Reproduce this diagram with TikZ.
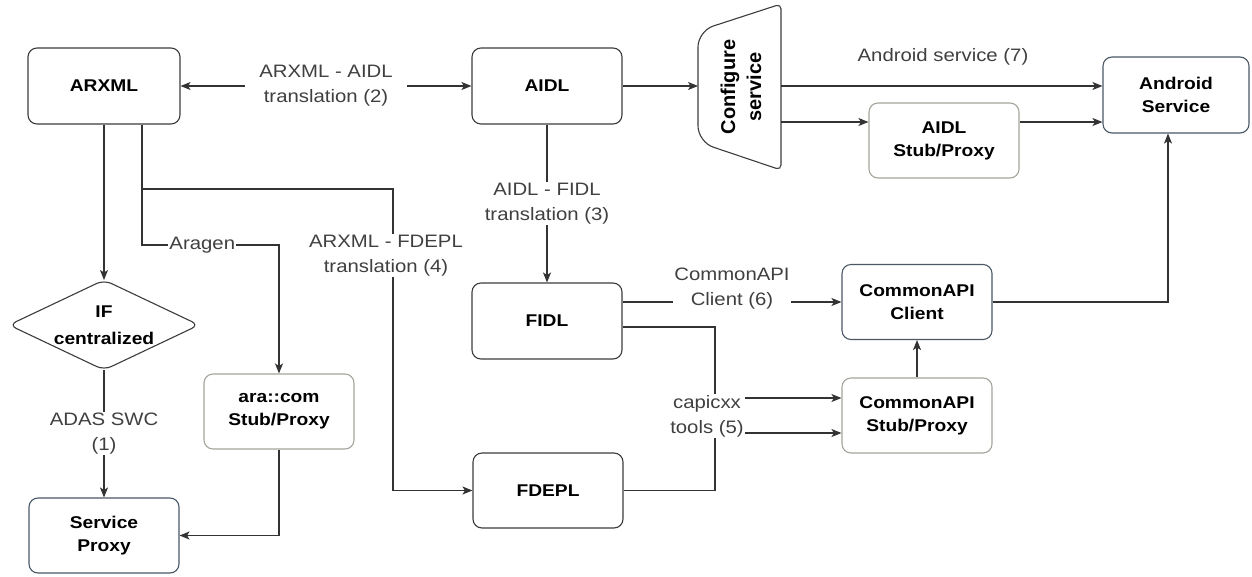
\documentclass[tikz,border=0pt]{standalone}
\usepackage{fontspec}
\setmainfont[FakeStretch=1.13]{Liberation Sans}
\newfontfamily\cfgfont{Liberation Sans}
\usetikzlibrary{arrows.meta}
\definecolor{linec}{HTML}{333333}
\definecolor{boxd}{HTML}{3C3C3C}
\definecolor{boxb}{HTML}{4A5866}
\definecolor{boxl}{HTML}{A6A49C}
\definecolor{lblc}{HTML}{404040}
\begin{document}
\begin{tikzpicture}[x=1pt,y=-1pt,
  box/.style={draw=boxd, line width=1.1pt, rounded corners=9pt, minimum width=150pt,
    minimum height=76pt, align=center, fill=white, inner sep=0pt,
    font=\bfseries\fontsize{17}{23}\selectfont},
  lbl/.style={font=\fontsize{18}{25}\selectfont, text=lblc, fill=white, align=center,
    inner xsep=3pt, inner ysep=1pt},
  conn/.style={draw=linec, line width=1.2pt},
  arr/.style={conn, -{Stealth[length=10pt,width=8pt,inset=2.5pt]}},
  darr/.style={conn, {Stealth[length=10pt,width=8pt,inset=2.5pt]}-{Stealth[length=10pt,width=8pt,inset=2.5pt]}}]
\path[use as bounding box] (0,0) rectangle (1252,576);
\fill[white] (0,0) rectangle (1252,576);

% boxes
\node[box, minimum width=152pt] (arxml) at (104,86) {ARXML};
\node[box] (aidl) at (547,86) {AIDL};
\node[box] (fidl) at (547,321) {FIDL};
\node[box, minimum height=75pt] (fdepl) at (548,490.5) {FDEPL};
\node[box, draw=boxb, minimum width=146pt] (andsvc) at (1176,95) {Android\\Service};
\node[box, draw=boxl, minimum height=75pt] (aidlstub) at (944,140.5) {AIDL\\Stub/Proxy};
\node[box, draw=boxb, minimum height=75pt] (capicl) at (917,302) {CommonAPI\\Client};
\node[box, draw=boxl, minimum height=75pt] (capistub) at (917,415.5) {CommonAPI\\Stub/Proxy};
\node[box, draw=boxl, minimum height=75pt] (arastub) at (279,411.5) {ara::com\\Stub/Proxy};
\node[box, draw=boxb, minimum height=75pt] (svcproxy) at (104,535.5) {Service\\Proxy};

% configure service (trapezoid)
\draw[draw=boxd, line width=1.1pt, fill=white]
  [rounded corners=5pt] (781,87) -- (781,4)
  [rounded corners=16pt] -- (698,31) -- (698,142)
  [rounded corners=5pt] -- (781,170) -- cycle;
\node[rotate=90, font=\cfgfont\bfseries\fontsize{20}{26}\selectfont, align=center] (cfg) at (741,87) {Configure\\service};
\coordinate (cfgW) at (698,86);
\coordinate (cfgA) at (781,86);
\coordinate (cfgB) at (781,122);

% IF centralized diamond
\draw[draw=boxd, line width=1.1pt, fill=white, rounded corners=8pt]
  (9,325) -- (104,280) -- (199,325) -- (104,370) -- cycle;
\node[font=\bfseries\fontsize{17}{27}\selectfont, align=center] (ifc) at (104,325) {IF\\centralized};
\coordinate (ifN) at (104,280);
\coordinate (ifS) at (104,370);

% connectors
\draw[darr] (arxml) -- node[lbl, inner xsep=14pt]{ARXML - AIDL\\translation (2)} (aidl);
\draw[arr] (aidl) -- (cfgW);
\draw[arr] (cfgA) -- (cfgA -| andsvc.west);
\node[lbl, fill=none] (l7) at (943,57) {Android service (7)};
\draw[arr] (cfgB) -- (cfgB -| aidlstub.west);
\draw[arr] (cfgB -| aidlstub.east) -- (cfgB -| andsvc.west);
\draw[arr] (aidl.south) -- node[lbl]{AIDL - FIDL\\translation (3)} (fidl.north);
\draw[arr] (capicl.west -| fidl.east) -- node[lbl, yshift=13pt, inner xsep=1pt]{CommonAPI\\Client (6)} (capicl.west);

\coordinate (c5a) at (715,398);
\coordinate (c5b) at (715,433);
\draw[arr] ([yshift=-6pt]fidl.east) -| (c5a) -- (c5a -| capistub.west);
\draw[arr] (fdepl.east) -| (c5b) -- (c5b -| capistub.west);
\node[lbl, inner xsep=1pt] (l5) at (707,416) {capicxx\\tools (5)};

\draw[arr] (capistub) -- (capicl);
\draw[arr] (capicl.east) -| ([xshift=-8pt]andsvc.south);

\draw[arr] (arxml) -- (ifN);
\draw[arr] (ifS) -- node[lbl]{ADAS SWC\\(1)} (svcproxy);

\coordinate (j4) at (393,189);
\draw[arr] ([xshift=38pt]arxml.south) |- (j4) -- node[lbl, pos=0.222, xshift=-7pt]{ARXML - FDEPL\\translation (4)} (j4 |- fdepl.west) -- (fdepl.west);
\coordinate (ja) at (279,245);
\draw[arr] ([xshift=38pt]arxml.south) |- node[lbl, pos=0.72, inner xsep=1pt]{Aragen} (ja) -- (arastub.north);
\draw[arr] (arastub.south) |- (svcproxy.east);
\end{tikzpicture}
\end{document}
